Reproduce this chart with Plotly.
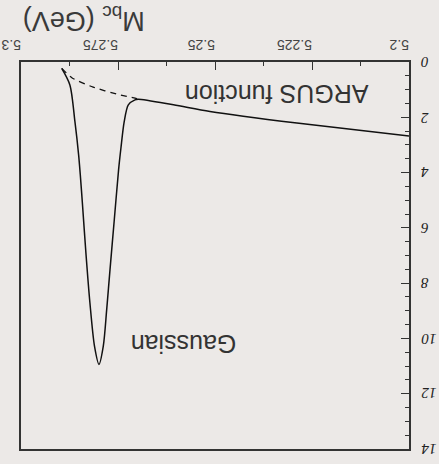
import plotly.graph_objects as go

# Beam-constrained mass (GeV) and fitted yield for the total fit (Gaussian + ARGUS)
total_mbc = [5.2895, 5.2874, 5.2861, 5.28515, 5.28472, 5.28418, 5.28327, 5.28224,
             5.28106, 5.27990, 5.27879, 5.27791, 5.27706, 5.27595, 5.27485, 5.27425,
             5.27340, 5.27234, 5.27062, 5.26977, 5.2607, 5.2513, 5.2289, 5.2000]
total_yield = [0.23, 0.83, 2.16, 3.36, 4.08, 5.10, 6.91, 8.71,
               10.28, 10.94, 10.28, 8.95, 7.51, 5.70, 3.90, 3.12,
               2.16, 1.55, 1.37, 1.35, 1.55, 1.79, 2.21, 2.68]

# ARGUS background alone under the signal peak
argus_mbc = [5.2895, 5.2869, 5.2814, 5.2753, 5.2706, 5.26977]
argus_yield = [0.23, 0.57, 0.91, 1.16, 1.31, 1.35]

x_ticks = [5.2, 5.225, 5.25, 5.275, 5.3]
y_ticks = [0, 2, 4, 6, 8, 10, 12, 14]

BG = "#ece9e7"
AXIS = "#333333"
SANS = "Liberation Sans, Arial, sans-serif"

fig = go.Figure()
fig.add_trace(go.Scatter(
    x=total_mbc, y=total_yield, mode="lines",
    line=dict(color="#111111", width=1.5, shape="spline", smoothing=0.8),
    showlegend=False, hoverinfo="skip"))
fig.add_trace(go.Scatter(
    x=argus_mbc, y=argus_yield, mode="lines",
    line=dict(color="#111111", width=1.3, dash="6px,5px", shape="spline", smoothing=0.6),
    showlegend=False, hoverinfo="skip"))

label_font = dict(family=SANS, size=25, color="#333333")
fig.add_annotation(x=5.2341, y=1.16, text="ARGUS function", showarrow=False,
                   textangle=180, font=label_font, xanchor="center", yanchor="middle")
fig.add_annotation(x=5.2582, y=10.22, text="Gaussian", showarrow=False,
                   textangle=180, font=label_font, xanchor="center", yanchor="middle")
fig.add_annotation(x=0.162, y=1.111, xref="paper", yref="paper",
                   text="M<sub>bc</sub> (GeV)", showarrow=False, textangle=180,
                   font=dict(family=SANS, size=27, color="#3a3a3a"),
                   xanchor="center", yanchor="middle")

# y tick labels, upside down and visually left-aligned beside the right axis
for v in y_ticks:
    fig.add_annotation(x=1.025, y=v, xref="paper", yref="y", text=str(v),
                       showarrow=False, textangle=180, xanchor="left", yanchor="middle",
                       font=dict(family="Liberation Serif, Times New Roman, serif",
                                 size=15, color="#222222", style="italic"))

fig.update_xaxes(
    range=[5.3, 5.2], side="top", tickvals=x_ticks,
    ticktext=[f"{v:g}" for v in x_ticks], tickangle=180,
    ticks="inside", ticklen=8, tickwidth=1.2, tickcolor=AXIS,
    minor=dict(dtick=0.0125, ticks="inside", ticklen=4, tickwidth=1.2, tickcolor=AXIS),
    showline=True, linecolor=AXIS, linewidth=2, mirror=True,
    showgrid=False, zeroline=False, ticklabelstandoff=0, automargin=False,
    tickfont=dict(family=SANS, size=14, color="#444444"))
fig.update_yaxes(
    range=[14, 0], side="right", tickvals=y_ticks, showticklabels=False,
    ticks="inside", ticklen=8, tickwidth=1.2, tickcolor=AXIS,
    minor=dict(dtick=0.5, ticks="inside", ticklen=4, tickwidth=1.2, tickcolor=AXIS),
    showline=True, linecolor=AXIS, linewidth=2, mirror=True,
    showgrid=False, zeroline=False, automargin=False)

fig.update_layout(
    width=439, height=464,
    margin=dict(l=21, r=30, t=62, b=15),
    paper_bgcolor=BG, plot_bgcolor=BG)

fig.write_html("out.html")
